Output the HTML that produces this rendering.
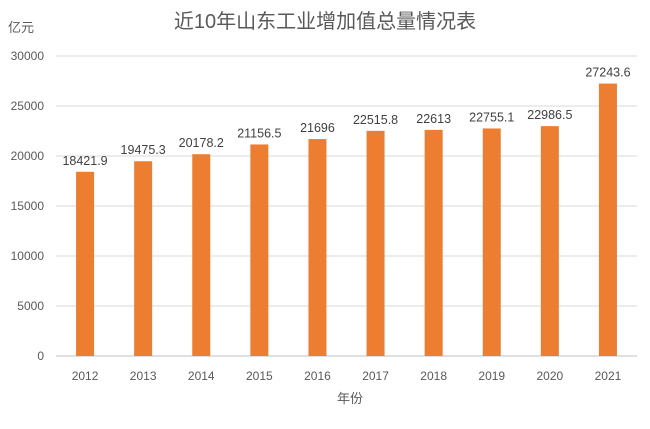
<!DOCTYPE html>
<html><head><meta charset="utf-8"><style>
body{margin:0;background:#fff}
text{font-family:"Liberation Sans","Noto Sans CJK SC",sans-serif;fill:#595959}
</style></head><body>
<svg width="650" height="424">
<text x="325" y="28" text-anchor="middle" font-size="20">近10年山东工业增加值总量情况表</text>
<text x="8" y="32" font-size="13">亿元</text>
<text x="350" y="403" text-anchor="middle" font-size="13">年份</text>
<g id="grid"></g><g id="bars"></g>
</svg>
<script>
const categories=["2012","2013","2014","2015","2016","2017","2018","2019","2020","2021"];
const values=[18421.9,19475.3,20178.2,21156.5,21696,22515.8,22613,22755.1,22986.5,27243.6];
const labels=["18421.9","19475.3","20178.2","21156.5","21696","22515.8","22613","22755.1","22986.5","27243.6"];
const ticks=[0,5000,10000,15000,20000,25000,30000];
const NS="http://www.w3.org/2000/svg";
const x0=56,x1=637,y0=356,y1=56,ymax=30000;
const band=(x1-x0)/categories.length;
const y=v=>y0-(v/ymax)*(y0-y1);
const xc=i=>x0+band*(i+0.5);
function mk(t,a,p){const e=document.createElementNS(NS,t);for(const k in a)e.setAttribute(k,a[k]);p.appendChild(e);return e;}
const g=document.getElementById('grid'),b=document.getElementById('bars');
ticks.forEach(t=>{
 const l=mk('line',{x1:x0,x2:x1,y1:y(t),y2:y(t),stroke:t?'#d9d9d9':'#bfbfbf','stroke-width':1},g);
 
 
 const tx=mk('text',{x:44,y:y(t)+4,'text-anchor':'end','font-size':12},g);tx.textContent=t;
 
 
});
values.forEach((v,i)=>{
 const r=mk('rect',{x:xc(i)-9,y:y(v),width:18,height:y0-y(v),fill:'#ed7d31'},b);
 
 
 const lt=mk('text',{x:xc(i),y:y(v)-7,'text-anchor':'middle','font-size':12.5,style:'fill:#404040'},b);lt.textContent=labels[i];
 
 
 const ct=mk('text',{x:xc(i),y:380,'text-anchor':'middle','font-size':12},b);ct.textContent=categories[i];
 
 
});
</script>
</body></html>
